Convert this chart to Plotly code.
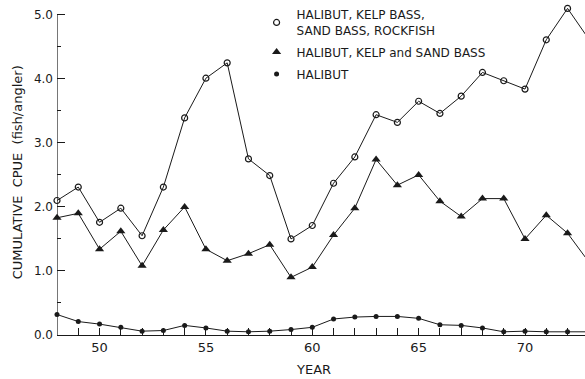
import plotly.graph_objects as go

# Survey years (19xx)
years = list(range(48, 74))

# Cumulative catch per unit effort (fish/angler)
cpue_all_four = [2.10, 2.31, 1.76, 1.98, 1.55, 2.31, 3.39, 4.01, 4.25, 2.75,
                 2.49, 1.50, 1.71, 2.37, 2.78, 3.44, 3.32, 3.65, 3.46, 3.73,
                 4.10, 3.97, 3.84, 4.61, 5.10, 4.62]
cpue_three = [1.83, 1.90, 1.34, 1.62, 1.08, 1.64, 2.00, 1.34, 1.16, 1.27,
              1.41, 0.90, 1.06, 1.56, 1.98, 2.74, 2.34, 2.50, 2.09, 1.85,
              2.13, 2.13, 1.50, 1.87, 1.59, 1.14]
cpue_halibut = [0.32, 0.21, 0.17, 0.12, 0.06, 0.07, 0.15, 0.11, 0.06, 0.05,
                0.06, 0.085, 0.12, 0.25, 0.28, 0.29, 0.29, 0.26, 0.16, 0.15,
                0.11, 0.05, 0.06, 0.05, 0.05, 0.05]

names = ["HALIBUT, KELP BASS,<br>SAND BASS, ROCKFISH",
         "HALIBUT, KELP and SAND BASS",
         "HALIBUT"]

INK = "#1a1a1a"
FONT = "DejaVu Sans"

series = [
    (cpue_all_four, dict(symbol="circle-open", size=6, color=INK, line=dict(width=1.2, color=INK))),
    (cpue_three, dict(symbol="triangle-up", size=8, color=INK)),
    (cpue_halibut, dict(symbol="circle", size=5, color=INK)),
]

fig = go.Figure()
for vals, mk in series:
    fig.add_trace(go.Scatter(x=years, y=vals, mode="lines+markers",
                             line=dict(color=INK, width=1), marker=mk,
                             showlegend=False, cliponaxis=False))
# legend keys (markers only), one group each so the group gap spaces them
for i, (name, (vals, mk)) in enumerate(zip(names, series)):
    fig.add_trace(go.Scatter(x=[None], y=[None], mode="markers", marker=mk,
                             name=name, legendgroup=f"g{i}"))

fig.update_layout(
    width=585, height=379,
    margin=dict(l=57, r=0, t=2, b=44),
    plot_bgcolor="white", paper_bgcolor="white",
    font=dict(family=FONT, color=INK, size=11),
    legend=dict(x=0.378, y=1.005, xanchor="left", yanchor="top",
                bgcolor="rgba(0,0,0,0)", itemwidth=30, tracegroupgap=3,
                font=dict(family=FONT, size=12, color=INK), valign="middle"),
    xaxis=dict(range=[48, 72.82], showgrid=False, zeroline=False,
               showline=True, linecolor=INK, linewidth=1.2,
               tickvals=[50, 55, 60, 65, 70], ticks="inside", ticklen=7,
               tickcolor=INK, tickwidth=1,
               minor=dict(dtick=1, tick0=48, ticks="inside", ticklen=7,
                          tickcolor=INK, tickwidth=1),
               tickfont=dict(size=13, family=FONT)),
    yaxis=dict(range=[0, 5.2], showgrid=False, zeroline=False, showline=False,
               tickvals=[0, 1, 2, 3, 4, 5],
               ticktext=["0.0", "1.0", "2.0", "3.0", "4.0", "5.0"],
               ticks="inside", ticklen=8, tickcolor=INK, tickwidth=1,
               minor=dict(dtick=0.5, ticks="inside", ticklen=4,
                          tickcolor=INK, tickwidth=1),
               ticklabelstandoff=3,
               tickfont=dict(size=12, family=FONT)),
)

# vertical axis line ends at the 5.0 tick
fig.add_shape(type="line", xref="x", yref="y", x0=48, x1=48, y0=0, y1=5,
              line=dict(color=INK, width=1.2))

fig.add_annotation(text="CUMULATIVE  CPUE  (fish/angler)", xref="paper", yref="paper",
                   x=-0.075, y=0.49, textangle=-90, showarrow=False,
                   xanchor="center", yanchor="middle",
                   font=dict(size=13, family=FONT, color=INK))
fig.add_annotation(text="YEAR", xref="paper", yref="paper",
                   x=0.485, y=-0.105, showarrow=False, xanchor="center", yanchor="middle",
                   font=dict(size=13, family=FONT, color=INK))

fig.write_html("out.html")
